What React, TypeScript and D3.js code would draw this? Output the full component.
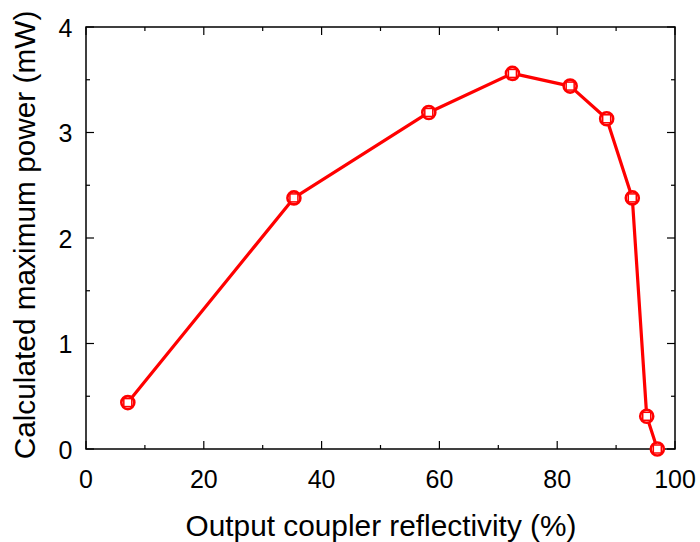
import React from "react";
import * as d3 from "d3";

const reflectivity = [7.1, 35.3, 58.2, 72.4, 82.2, 88.4, 92.75, 95.2, 97.0];
const power = [0.44, 2.38, 3.19, 3.56, 3.44, 3.13, 2.38, 0.31, 0.0];
const xTicks = [0, 20, 40, 60, 80, 100];
const yTicks = [0, 1, 2, 3, 4];
const xMinor = [10, 30, 50, 70, 90];
const yMinor = [0.5, 1.5, 2.5, 3.5];

export default function App() {
  const W = 700, H = 542;
  const left = 86, right = 675, top = 27, bottom = 449;
  const x = d3.scaleLinear().domain([0, 100]).range([left, right]);
  const y = d3.scaleLinear().domain([0, 4]).range([bottom, top]);
  const line = d3.line<number>().x((_, i) => x(reflectivity[i])).y((d) => y(d));
  const font = "Liberation Sans, Arial, sans-serif";
  return (
    <svg width={W} height={H} style={{ position: "absolute", left: 0, top: 0 }}>
      <rect x={0} y={0} width={W} height={H} fill="white" />
      <rect x={left} y={top} width={right - left} height={bottom - top} fill="none" stroke="black" strokeWidth={1.5} />
      {xTicks.map((t) => (
        <g key={"x" + t}>
          <line x1={x(t)} x2={x(t)} y1={bottom} y2={bottom - 8} stroke="black" strokeWidth={1.2} />
          <line x1={x(t)} x2={x(t)} y1={top} y2={top + 8} stroke="black" strokeWidth={1.2} />
          <text x={x(t)} y={488} textAnchor="middle" fontFamily={font} fontSize={25}>{t}</text>
        </g>
      ))}
      {xMinor.map((t) => (
        <g key={"xm" + t}>
          <line x1={x(t)} x2={x(t)} y1={bottom} y2={bottom - 4} stroke="black" strokeWidth={1.2} />
          <line x1={x(t)} x2={x(t)} y1={top} y2={top + 4} stroke="black" strokeWidth={1.2} />
        </g>
      ))}
      {yTicks.map((t) => (
        <g key={"y" + t}>
          <line x1={left} x2={left + 8} y1={y(t)} y2={y(t)} stroke="black" strokeWidth={1.2} />
          <line x1={right} x2={right - 8} y1={y(t)} y2={y(t)} stroke="black" strokeWidth={1.2} />
          <text x={72.5} y={y(t) + 9.5} textAnchor="end" fontFamily={font} fontSize={25}>{t}</text>
        </g>
      ))}
      {yMinor.map((t) => (
        <g key={"ym" + t}>
          <line x1={left} x2={left + 4} y1={y(t)} y2={y(t)} stroke="black" strokeWidth={1.2} />
          <line x1={right} x2={right - 4} y1={y(t)} y2={y(t)} stroke="black" strokeWidth={1.2} />
        </g>
      ))}
      <path d={line(power) || ""} fill="none" stroke="#ff0000" strokeWidth={3.2} strokeLinejoin="round" />
      {power.map((p, i) => (
        <g key={"m" + i}>
          <circle cx={x(reflectivity[i])} cy={y(p)} r={6.5} fill="white" stroke="#ff0000" strokeWidth={2.6} />
          <rect x={x(reflectivity[i]) - 4} y={y(p) - 4} width={8} height={8} fill="none" stroke="#ff0000" strokeWidth={1.5} />
        </g>
      ))}
      <text x={381} y={536} textAnchor="middle" fontFamily={font} fontSize={29.8}>Output coupler reflectivity (%)</text>
      <text transform={`translate(35,235) rotate(-90)`} textAnchor="middle" fontFamily={font} fontSize={29.8}>Calculated maximum power (mW)</text>
    </svg>
  );
}
